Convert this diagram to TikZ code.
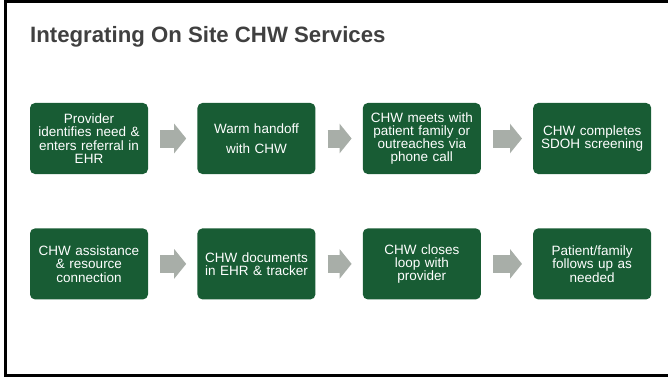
\documentclass[tikz,border=0pt]{standalone}
\usepackage{fontspec}
\setmainfont{Liberation Sans}
\usetikzlibrary{arrows.meta,positioning}
\definecolor{chwgreen}{RGB}{24,92,52}
\definecolor{chwgray}{RGB}{168,174,168}
\definecolor{titlegray}{RGB}{64,64,64}

\begin{document}
\begin{tikzpicture}[
      x=1pt, y=-1pt,
      node distance=49pt,
      % green step boxes
      stepbox/.style={rounded corners=5pt, fill=chwgreen, text=white, minimum width=118pt, minimum height=71pt, inner sep=2pt, text width=114pt, align=center, font=\fontsize{13.5}{13.3}\selectfont},
      flow/.style={draw=chwgray, line width=18pt, -{Triangle[length=12pt,width=29pt]}, shorten <=12pt, shorten >=11pt}
    ]
      \useasboundingbox (0,0) rectangle (668,377);
      \draw[line width=3pt] (672,2) -- (5.5,2) -- (5.5,375.5) -- (672,375.5);
      \node[anchor=base west, text=titlegray, font=\fontsize{22.2}{24}\bfseries, inner sep=0pt] (title) at (30,43) {Integrating On Site CHW Services};

      % first row
      \node[stepbox] (prov) at (89,138.5) {Provider\\identifies need \&\\enters referral in\\EHR};
      \node[stepbox, right=of prov, font=\fontsize{13.5}{20}\selectfont] (warm) {Warm handoff\\with CHW};
      \node[stepbox, right=47pt of warm] (meet) {CHW meets with\\patient family or\\outreaches via\\phone call};
      \node[stepbox, right=52pt of meet] (sdoh) {CHW completes\\SDOH screening};

      % second row
      \node[stepbox, below=54pt of prov] (assist) {CHW assistance\\\& resource\\connection};
      \node[stepbox, right=of assist] (docs) {CHW documents\\in EHR \& tracker};
      \node[stepbox, right=47pt of docs] (loop) {CHW closes\\loop with\\provider};
      \node[stepbox, right=52pt of loop] (follow) {Patient/family\\follows up as\\needed};

      \draw[flow] (prov) -- (warm);
      \draw[flow] (warm) -- (meet);
      \draw[flow] (meet) -- (sdoh);
      \draw[flow] (assist) -- (docs);
      \draw[flow] (docs) -- (loop);
      \draw[flow] (loop) -- (follow);
    \end{tikzpicture}
\end{document}
